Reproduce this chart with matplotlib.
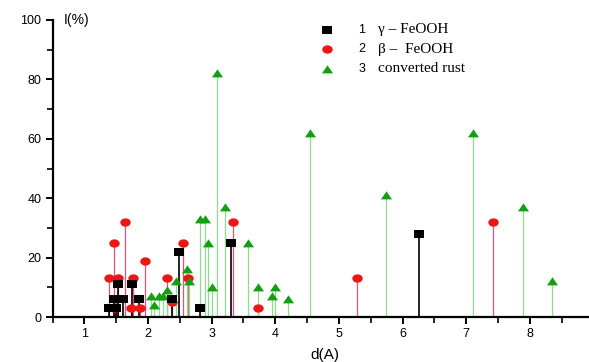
import matplotlib
matplotlib.use("Agg")
import matplotlib.pyplot as plt
import numpy as np
from matplotlib.path import Path
from matplotlib.ticker import MultipleLocator

# gamma-FeOOH (black squares)
gamma_d = [1.39, 1.46, 1.50, 1.53, 1.60, 1.75, 1.86, 2.38, 2.48, 2.82, 3.31, 6.26]
gamma_I = [3, 6, 3, 11, 6, 11, 6, 6, 22, 3, 25, 28]

# beta-FeOOH (red circles)
beta_d = [1.39, 1.46, 1.47, 1.50, 1.53, 1.64, 1.74, 1.77, 1.88, 1.96, 2.30, 2.37,
          2.55, 2.63, 3.34, 3.73, 5.29, 7.42]
beta_I = [13, 25, 3, 6, 13, 32, 3, 13, 3, 19, 13, 5,
          25, 13, 32, 3, 13, 32]

# converted rust (green triangles)
rust_d = [2.05, 2.10, 2.18, 2.24, 2.30, 2.44, 2.62, 2.65, 2.82, 2.90, 2.95, 3.01,
          3.09, 3.21, 3.57, 3.73, 3.95, 4.00, 4.20, 4.55, 5.74, 7.11, 7.89, 8.35]
rust_I = [7, 4, 7, 7, 9, 12, 16, 12, 33, 33, 25, 10,
          82, 37, 25, 10, 7, 10, 6, 62, 41, 62, 37, 12]

x_ticks = [1, 2, 3, 4, 5, 6, 7, 8]
y_ticks = [0, 20, 40, 60, 80, 100]

legend_nums = ["1", "2", "3"]
legend_names = ["\u03b3 \u2013 FeOOH", "\u03b2 \u2013  FeOOH", "converted rust"]

# custom marker shapes (slightly wide, like the original)
rect_marker = Path([(-1, -0.85), (1, -0.85), (1, 0.85), (-1, 0.85), (-1, -0.85)],
                   [Path.MOVETO, Path.LINETO, Path.LINETO, Path.LINETO, Path.CLOSEPOLY])
t = np.linspace(0, 2 * np.pi, 41)
ell_marker = Path(np.column_stack([np.cos(t), 0.8 * np.sin(t)]))
tri_marker = Path([(-1, -0.7), (1, -0.7), (0, 0.75), (-1, -0.7)],
                  [Path.MOVETO, Path.LINETO, Path.LINETO, Path.CLOSEPOLY])

fig = plt.figure(figsize=(5.89, 3.62), dpi=100)
left = 52.5 / 589
bottom = 1 - 317 / 362
top = 1 - 20 / 362
ax = fig.add_axes([left, bottom, 1 - left, top - bottom])

ax.set_xlim(0.5, 8.93)
ax.set_ylim(0, 100)

# stems
ax.vlines(beta_d, 0, beta_I, colors="#e8507a", linewidth=0.9, zorder=2)
ax.vlines(rust_d, 0, rust_I, colors="#8edc8e", linewidth=0.9, zorder=2)
ax.vlines(gamma_d, 0, gamma_I, colors="#000000", linewidth=1.2, zorder=2)

# markers
ax.plot(beta_d, beta_I, linestyle="none", marker=ell_marker, markersize=7.5,
        color="#ee1515", markeredgewidth=0, zorder=3)
ax.plot(rust_d, rust_I, linestyle="none", marker=tri_marker, markersize=8,
        color="#12a012", markeredgewidth=0, zorder=3)
ax.plot(gamma_d, gamma_I, linestyle="none", marker=rect_marker, markersize=6.5,
        color="#000000", markeredgewidth=0, zorder=4)

for s in ["top", "right"]:
    ax.spines[s].set_visible(False)
ax.spines["left"].set_linewidth(1.6)
ax.spines["bottom"].set_linewidth(1.6)

ax.set_xticks(x_ticks)
ax.set_xticklabels([str(v) for v in x_ticks])
ax.xaxis.set_minor_locator(MultipleLocator(0.5))
ax.set_yticks(y_ticks)
ax.set_yticklabels([str(v) for v in y_ticks])
ax.yaxis.set_minor_locator(MultipleLocator(10))
ax.tick_params(which="major", length=5, width=1.4, labelsize=9, pad=3)
ax.tick_params(which="minor", length=4, width=1.2)
for lab in ax.get_xticklabels() + ax.get_yticklabels():
    lab.set_family("Liberation Sans")

ax.text(0.68, 100, "I(%)", fontsize=10, family="Liberation Sans",
        va="center", ha="left", transform=ax.transData, clip_on=False)
fig.text(325 / 589, 1 - 355 / 362, "d(A)", fontsize=11, family="Liberation Sans",
         ha="center", va="center")

# legend
marker_specs = [(rect_marker, "#000000", 6.5), (ell_marker, "#ee1515", 7.5),
                (tri_marker, "#12a012", 8)]
ys = [30, 49, 69]
for (m, c, ms), y, num, name in zip(marker_specs, ys, legend_nums, legend_names):
    fy = 1 - y / 362
    fig.lines.append(plt.Line2D([327 / 589], [fy], marker=m, color=c, markersize=ms,
                                markeredgewidth=0, linestyle="none",
                                transform=fig.transFigure))
    fig.text(362 / 589, fy, num, fontsize=9, family="Liberation Sans",
             ha="center", va="center")
    fig.text(378 / 589, fy, name, fontsize=11, family="Liberation Serif",
             ha="left", va="center")

fig.savefig("out.png", dpi=100)
